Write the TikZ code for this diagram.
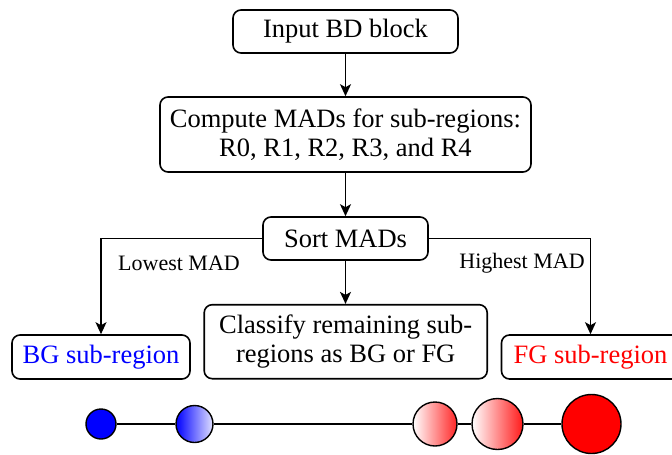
\documentclass[tikz,border=0pt]{standalone}
\usepackage{fontspec}
\setmainfont{Liberation Serif}
\usetikzlibrary{arrows.meta}
\begin{document}
\begin{tikzpicture}[x=1pt,y=-1pt,
  box/.style={draw, line width=1.6pt, rounded corners=8pt, align=center, inner sep=0pt,
    font=\fontsize{26.5}{28.5}\selectfont},
  conn/.style={line width=1.6pt, -{Stealth[length=12pt,width=11pt,inset=3pt]}},
  lab/.style={font=\fontsize{22}{26}\selectfont, inner sep=0pt},
  ball/.style={circle, draw, line width=1.4pt, inner sep=0pt}]
\useasboundingbox (0,0) rectangle (672,455);
\node[box, minimum width=225pt, minimum height=43pt] (b1) at (345.5,31.5) {Input BD block};
\node[box, minimum width=371pt, minimum height=75pt] (b2) at (345.5,134.5) {Compute MADs for sub-regions:\\R0, R1, R2, R3, and R4};
\node[box, minimum width=165pt, minimum height=43pt] (b3) at (345.5,238.5) {Sort MADs};
\node[box, minimum width=178pt, minimum height=44pt, text=blue] (bg) at (101,357) {BG sub-region};
\node[box, minimum width=283pt, minimum height=74pt] (cl) at (345.7,341.7) {Classify remaining sub-\\regions as BG or FG};
\node[box, minimum width=178pt, minimum height=44pt, text=red] (fg) at (590.5,357) {FG sub-region};
\draw[conn] (b1.south) -- (b1.south |- b2.north);
\draw[conn] (b2.south) -- (b3.north);
\draw[conn] (b3.south) -- (b3.south |- cl.north);
\draw[conn] (b3.west) -| (bg.north);
\draw[conn] (b3.east) -| (fg.north);
\node[lab] (l1) at (179,263) {Lowest MAD};
\node[lab] (l2) at (522,263) {Highest MAD};
\node[ball, minimum size=30pt, fill=blue] (c1) at (101,424) {};
\node[ball, minimum size=37pt, left color=blue, right color=blue!12] (c2) at (194.5,424) {};
\node[ball, minimum size=44pt, left color=white, right color=red!85] (c3) at (435,424) {};
\node[ball, minimum size=51pt, left color=white, right color=red!90] (c4) at (497.5,424) {};
\node[ball, minimum size=59pt, fill=red] (c5) at (591.5,424) {};
\draw[line width=1.5pt] (c1) -- (c2) (c2) -- (c3) (c3) -- (c4) (c4) -- (c5);
\end{tikzpicture}
\end{document}
